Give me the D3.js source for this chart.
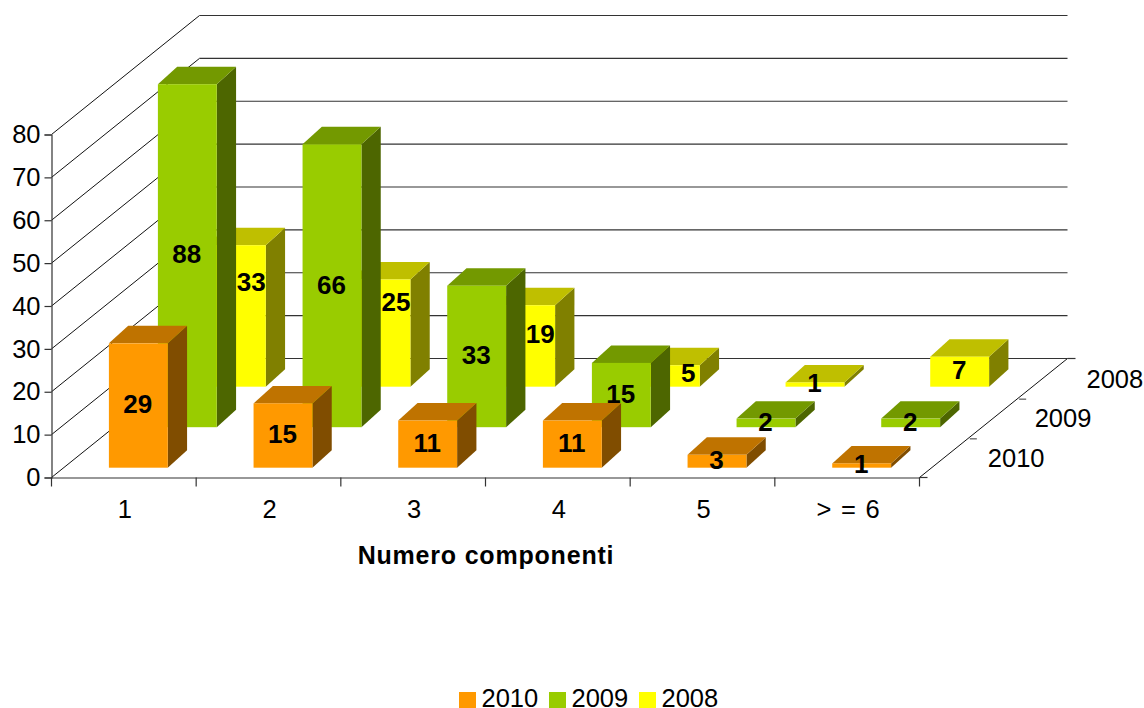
<!DOCTYPE html>
<html><head><meta charset="utf-8">
<script src="https://cdnjs.cloudflare.com/ajax/libs/d3/7.8.5/d3.min.js"></script>
<style>
html,body{margin:0;padding:0;background:#fff;overflow:hidden}
svg{display:block}
text{font-family:"Liberation Sans",Arial,sans-serif;fill:#000}
</style></head><body>
<svg id="c" width="1144" height="708"></svg>
<script>
const categories = ["1","2","3","4","5","> = 6"];
const seriesNames = ["2010","2009","2008"];
const values2010 = [29,15,11,11,3,1];
const values2009 = [88,66,33,15,2,2];
const values2008 = [33,25,19,5,1,7];
const yTicks = [0,10,20,30,40,50,60,70,80];
const axisTitle = "Numero componenti";

const seriesValues = {"2010":values2010,"2009":values2009,"2008":values2008};
const front = {"2010":"#FF9900","2009":"#99CC00","2008":"#FFFF00"};
const topCol = {"2010":"#BF7300","2009":"#739900","2008":"#BFBF00"};
const sideCol = {"2010":"#804D00","2009":"#4D6600","2008":"#808000"};
// layout: label nudges where the rear series' label sits beside the nearer bar
const labelNudge = {"2008|1":[15.5,-33],"2008|2":[15.5,-30],"2008|3":[15,-11],"2008|4":[18.5,-2]};

const L=51.5,R=919.5,Y0=477.5,Y80=134.5,DX=148,DY=119,FS=25.5,LFS=26;
const svg=d3.select("#c");
const x=d3.scaleBand().domain(categories).range([L,R]);
const inner=d3.scaleBand().domain(categories).range([L,R]).paddingInner(0.593).paddingOuter(0.2965);
const y=d3.scaleLinear().domain([0,80]).range([Y0,Y80]).clamp(true);
const zX=d3.scaleBand().domain(seriesNames).range([14.5,131.8]).paddingInner(0.606);
const zY=d3.scaleBand().domain(seriesNames).range([9.8,108.3]).paddingInner(0.568);

// walls
const walls=svg.append("g").attr("fill","none");
yTicks.forEach(t=>{
  walls.append("line").attr("x1",L).attr("y1",y(t)).attr("x2",L+DX).attr("y2",y(t)-DY).attr("stroke","#111").attr("stroke-width",1);
  walls.append("line").attr("x1",L+DX).attr("y1",y(t)-DY).attr("x2",R+DX).attr("y2",y(t)-DY).attr("stroke","#333").attr("stroke-width",1.2);
});
walls.append("line").attr("x1",R).attr("y1",Y0).attr("x2",R+DX).attr("y2",Y0-DY).attr("stroke","#111");
walls.append("line").attr("x1",R+DX).attr("y1",Y0-DY).attr("x2",R+DX+8).attr("y2",Y0-DY).attr("stroke","#333").attr("stroke-width",1.2);

// axes
const yAxis=svg.append("g").attr("transform",`translate(${L},0)`)
  .call(d3.axisLeft(y).tickValues(yTicks).tickSize(7).tickPadding(4));
const xAxis=svg.append("g").attr("transform",`translate(1,${Y0})`)
  .call(d3.axisBottom(x).tickSize(0).tickPadding(22));
[yAxis,xAxis].forEach(a=>{
  a.attr("font-family",null).attr("font-size",null);
  a.selectAll("text").attr("font-size",FS).style("fill","#000").style("word-spacing","2.5px");
  a.selectAll("path,line").attr("stroke","#333").attr("stroke-width",1.2);
});
xAxis.select("path").attr("transform","translate(-1,0)");
categories.concat(["end"]).forEach((c,i)=>{
  const px=L+i*x.step();
  svg.append("line").attr("x1",px).attr("x2",px).attr("y1",Y0).attr("y2",Y0+9).attr("stroke","#333").attr("stroke-width",1.2);
});
svg.append("line").attr("x1",R).attr("x2",R+8).attr("y1",Y0).attr("y2",Y0).attr("stroke","#333").attr("stroke-width",1.2);

// depth axis
seriesNames.forEach((s,i)=>{
  const f=(i+1)/3, tx=R+DX*f, ty=Y0-DY*f;
  if(i<2) svg.append("line").attr("x1",tx+1).attr("x2",tx+8).attr("y1",ty+1).attr("y2",ty+1).attr("stroke","#555").attr("stroke-width",1.2);
  svg.append("text").attr("x",tx+(i==0?19:i==1?16.5:19)).attr("y",ty+29).attr("font-size",FS).text(s);
});

// bars, far row first
[...seriesNames].reverse().forEach(s=>{
  const g=svg.append("g");
  const bw=inner.bandwidth(), ddx=zX.bandwidth(), ddy=zY.bandwidth();
  categories.forEach((c,i)=>{
    const v=seriesValues[s][i];
    const x0=inner(c)+zX(s), x1=x0+bw;
    const yb=y(0)-zY(s), yt=y(v)-zY(s);
    g.append("path").attr("fill",sideCol[s]).attr("d",`M${x1},${yb}L${x1+ddx},${yb-ddy}L${x1+ddx},${yt-ddy}L${x1},${yt}Z`);
    g.append("path").attr("fill",topCol[s]).attr("d",`M${x0},${yt}L${x0+ddx},${yt-ddy}L${x1+ddx},${yt-ddy}L${x1},${yt}Z`);
    g.append("rect").attr("fill",front[s]).attr("x",x0).attr("y",yt).attr("width",bw).attr("height",yb-yt);
  });
});

// value labels on top
seriesNames.forEach(s=>{
  categories.forEach((c,i)=>{
    const v=seriesValues[s][i];
    const n=labelNudge[s+"|"+c]||[0,0];
    const cx=inner(c)+zX(s)+inner.bandwidth()/2+n[0];
    const cy=(y(v)+y(0))/2-zY(s)+n[1];
    svg.append("text").attr("x",cx-0.5).attr("y",cy).attr("dy","0.3em").attr("text-anchor","middle")
      .attr("font-size",LFS).attr("font-weight","bold").text(v);
  });
});

// title
svg.append("text").attr("x",486).attr("y",564).attr("text-anchor","middle").attr("font-size",25).attr("letter-spacing","0.8px").attr("font-weight","bold").text(axisTitle);

// legend
const leg=d3.scaleOrdinal().domain(seriesNames).range([459,549,639]);
seriesNames.forEach(s=>{
  svg.append("rect").attr("x",leg(s)).attr("y",692).attr("width",17).attr("height",16).attr("fill",front[s]);
  svg.append("text").attr("x",leg(s)+22.5).attr("y",706.5).attr("font-size",FS).text(s);
});
</script>
</body></html>
